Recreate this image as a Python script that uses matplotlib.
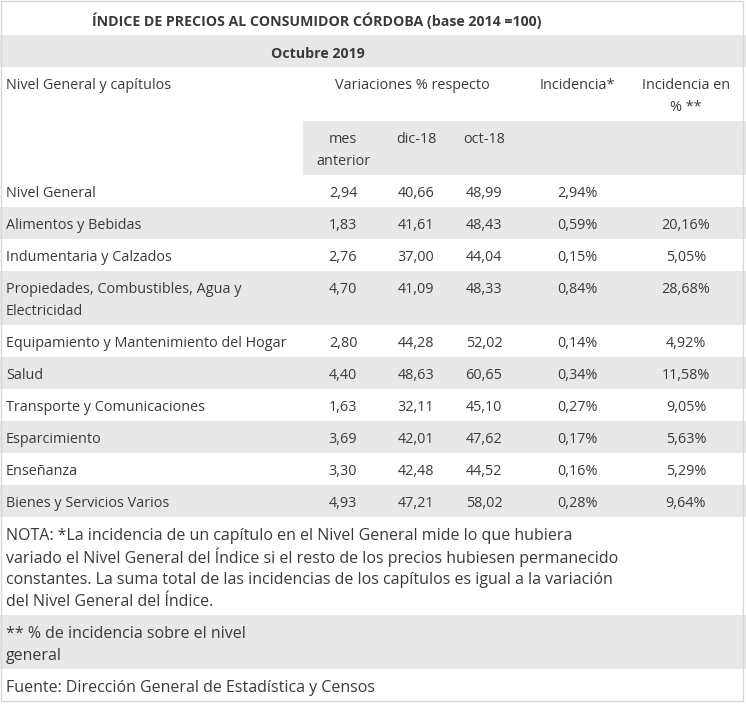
import matplotlib
matplotlib.use("Agg")
from matplotlib import pyplot as plt
from matplotlib.patches import Rectangle

plt.rcParams['font.family'] = ['Open Sans', 'DejaVu Sans']

# table data
titulo = "ÍNDICE DE PRECIOS AL CONSUMIDOR CÓRDOBA (base 2014 =100)"
periodo = "Octubre 2019"
capitulos = ["Nivel General", "Alimentos y Bebidas", "Indumentaria y Calzados",
             "Propiedades, Combustibles, Agua y\nElectricidad",
             "Equipamiento y Mantenimiento del Hogar", "Salud",
             "Transporte y Comunicaciones", "Esparcimiento", "Enseñanza",
             "Bienes y Servicios Varios"]
mes_anterior = [2.94, 1.83, 2.76, 4.70, 2.80, 4.40, 1.63, 3.69, 3.30, 4.93]
dic_18 = [40.66, 41.61, 37.00, 41.09, 44.28, 48.63, 32.11, 42.01, 42.48, 47.21]
oct_18 = [48.99, 48.43, 44.04, 48.33, 52.02, 60.65, 45.10, 47.62, 44.52, 58.02]
incidencia = [2.94, 0.59, 0.15, 0.84, 0.14, 0.34, 0.27, 0.17, 0.16, 0.28]
incidencia_pct = [None, 20.16, 5.05, 28.68, 4.92, 11.58, 9.05, 5.63, 5.29, 9.64]
sub_headers = ["mes\nanterior", "dic-18", "oct-18"]
notas = ["NOTA: *La incidencia de un capítulo en el Nivel General mide lo que hubiera\n"
         "variado el Nivel General del Índice si el resto de los precios hubiesen permanecido\n"
         "constantes. La suma total de las incidencias de los capítulos es igual a la variación\n"
         "del Nivel General del Índice.",
         "** % de incidencia sobre el nivel\ngeneral",
         "Fuente: Dirección General de Estadística y Censos"]

W, H = 746, 705
GRAY = '#e8e8e8'
TXT = '#3a3a3a'
FS = 10.4
FS_NOTE = 11.5
FS_BOLD = 10.2
LINE = 22
col_x = [343, 416, 484, 577, 686]


def fmt(v, pct=False):
    if v is None:
        return ""
    s = f"{v:.2f}".replace(".", ",")
    return s + "%" if pct else s


def lines(ax, x, top, text, ha='left', fs=FS, **kw):
    for i, ln in enumerate(text.split("\n")):
        ax.text(x, top + 18.5 + i * LINE, ln, ha=ha, va='center', fontsize=fs,
                color=TXT, **kw)


def row_h(text):
    n = text.count("\n") + 1
    return 32 if n == 1 else 10 + n * LINE


fig = plt.figure(figsize=(W / 100, H / 100), dpi=100)
ax = fig.add_axes([0, 0, 1, 1])
ax.set_xlim(0, W)
ax.set_ylim(H, 0)
ax.axis('off')

y = 2
# title
lines(ax, 317, y, titulo, ha='center', fs=FS_BOLD, fontweight='bold')
y += 33
ax.add_patch(Rectangle((0, y), W, 32, color=GRAY, lw=0))
lines(ax, 318, y, periodo, ha='center', fs=FS_BOLD, fontweight='bold')
y += 32
# header
lines(ax, 6, y, "Nivel General y capítulos")
lines(ax, 412, y, "Variaciones % respecto", ha='center')
lines(ax, col_x[3], y, "Incidencia*", ha='center')
lines(ax, col_x[4], y, "Incidencia en\n% **", ha='center')
y += 54
ax.add_patch(Rectangle((303, y), W - 303, 54, color=GRAY, lw=0))
for cx, sh in zip(col_x, sub_headers):
    lines(ax, cx, y, sh, ha='center')
y += 54

for i, cap in enumerate(capitulos):
    h = row_h(cap)
    if i % 2 == 1:
        ax.add_patch(Rectangle((0, y), W, h, color=GRAY, lw=0))
    lines(ax, 6, y, cap)
    vals = [fmt(mes_anterior[i]), fmt(dic_18[i]), fmt(oct_18[i]),
            fmt(incidencia[i], True), fmt(incidencia_pct[i], True)]
    for cx, v in zip(col_x, vals):
        lines(ax, cx, y, v, ha='center')
    y += h

for j, nt in enumerate(notas):
    h = row_h(nt)
    if j == 1:
        ax.add_patch(Rectangle((0, y), W, h, color=GRAY, lw=0))
    lines(ax, 6, y, nt, fs=FS_NOTE)
    y += h

ax.add_patch(Rectangle((1, 1), 742, y - 1, fill=False, ec='#d8d8d8', lw=1))

fig.savefig("out.png", dpi=100)
